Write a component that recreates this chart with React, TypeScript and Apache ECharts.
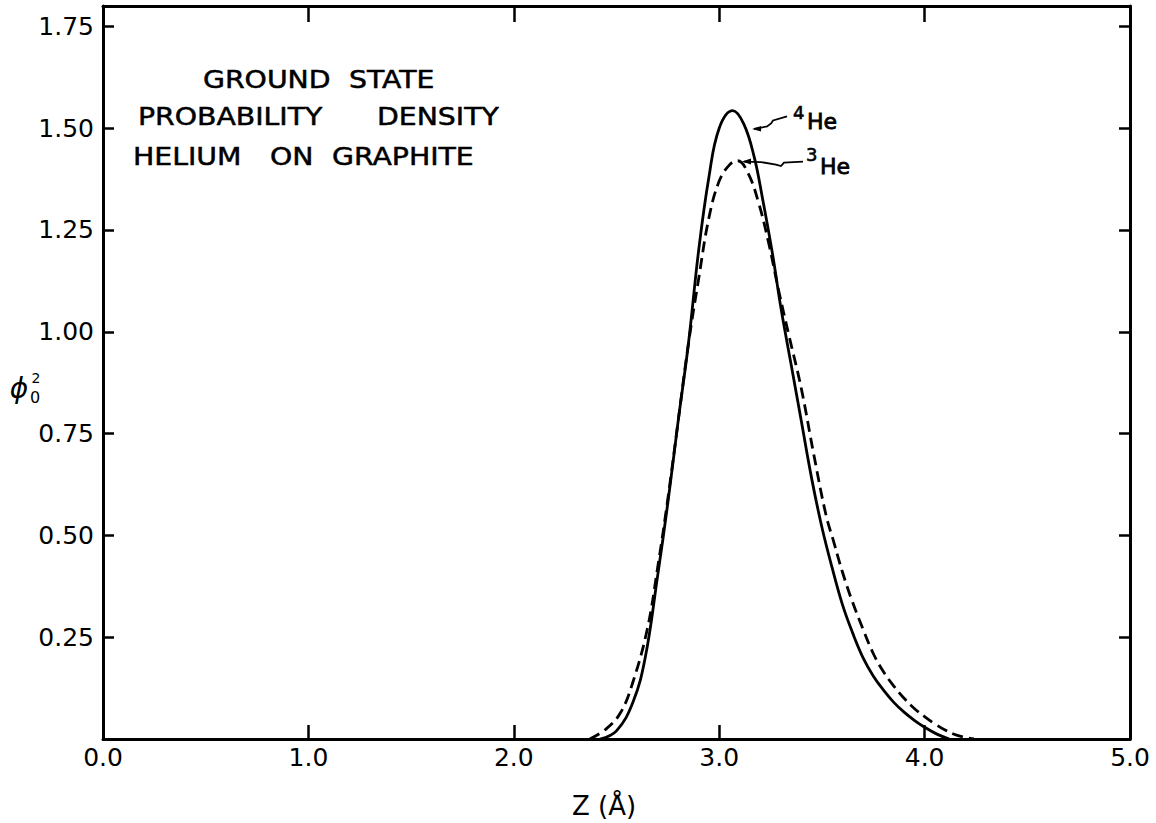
import React, { useEffect, useRef } from "react";
import * as echarts from "echarts";

// ---- data ----
const xTickValues = [0, 1, 2, 3, 4, 5];
const yTickValues = [0.25, 0.5, 0.75, 1.0, 1.25, 1.5, 1.75];

// 4He ground state probability density (solid)
const he4Z = [2.42, 2.5, 2.58, 2.64, 2.7, 2.75, 2.8, 2.85, 2.9, 2.95, 3.0, 3.066, 3.12, 3.17, 3.21, 3.26, 3.3, 3.35, 3.4, 3.45, 3.5, 3.55, 3.6, 3.65, 3.7, 3.75, 3.8, 3.85, 3.9, 3.95, 4.0, 4.06, 4.12];
const he4Phi = [0.0, 0.02, 0.09, 0.2, 0.4, 0.58, 0.78, 0.97, 1.2, 1.38, 1.5, 1.543, 1.51, 1.43, 1.33, 1.19, 1.06, 0.92, 0.78, 0.64, 0.52, 0.42, 0.33, 0.26, 0.2, 0.155, 0.12, 0.09, 0.066, 0.046, 0.029, 0.012, 0.0];

// 3He ground state probability density (dashed)
const he3Z = [2.37, 2.45, 2.52, 2.58, 2.65, 2.7, 2.75, 2.8, 2.85, 2.9, 2.95, 3.0, 3.05, 3.09, 3.14, 3.19, 3.24, 3.29, 3.34, 3.4, 3.46, 3.52, 3.56, 3.6, 3.65, 3.7, 3.75, 3.8, 3.85, 3.9, 3.95, 4.0, 4.05, 4.1, 4.16, 4.24];
const he3Phi = [0.0, 0.025, 0.065, 0.14, 0.27, 0.42, 0.59, 0.78, 0.97, 1.13, 1.28, 1.37, 1.41, 1.42, 1.39, 1.32, 1.22, 1.1, 0.99, 0.86, 0.7, 0.55, 0.48, 0.41, 0.335, 0.27, 0.21, 0.165, 0.13, 0.1, 0.075, 0.055, 0.037, 0.022, 0.009, 0.0];

const titleRows = [
  ["GROUND", "STATE"],
  ["PROBABILITY", "DENSITY"],
  ["HELIUM", "ON", "GRAPHITE"],
];
const xAxisTitle = "Z (Å)";
const seriesNames = ["4He", "3He"];

const FONT = "DejaVu Sans";

export default function App() {
  const ref = useRef<HTMLDivElement>(null);

  useEffect(() => {
    if (!ref.current) return;
    const chart = echarts.init(ref.current, undefined, { renderer: "svg" });

    const isTick = (v: number) => yTickValues.some((t) => Math.abs(t - v) < 1e-6);

    const axisLine = { show: true, onZero: false, lineStyle: { color: "#000", width: 3 } };

    chart.setOption({
      animation: false,
      backgroundColor: "#fff",
      grid: { left: 103, right: 26, top: 6, bottom: 84, containLabel: false },
      xAxis: [
        {
          type: "value",
          position: "bottom",
          min: xTickValues[0],
          max: xTickValues[xTickValues.length - 1],
          interval: 1,
          axisLine,
          axisTick: { show: true, inside: true, length: 14, lineStyle: { color: "#000", width: 2.5 } },
          axisLabel: {
            color: "#000",
            fontFamily: FONT,
            fontSize: 25,
            margin: 6,
            formatter: (v: number) => v.toFixed(1),
          },
          splitLine: { show: false },
        },
        {
          type: "value",
          position: "top",
          min: xTickValues[0],
          max: xTickValues[xTickValues.length - 1],
          interval: 1,
          axisLine,
          axisTick: { show: true, inside: true, length: 16, lineStyle: { color: "#000", width: 2.5 } },
          axisLabel: { show: false },
          splitLine: { show: false },
        },
      ],
      yAxis: [
        {
          type: "value",
          position: "left",
          min: 0,
          max: 1.8,
          interval: 0.25,
          axisLine,
          axisTick: { show: true, inside: true, length: 11, lineStyle: { color: "#000", width: 2.5 } },
          axisLabel: {
            color: "#000",
            fontFamily: FONT,
            fontSize: 25,
            margin: 9,
            formatter: (v: number) => (isTick(v) ? v.toFixed(2) : ""),
          },
          splitLine: { show: false },
        },
        {
          type: "value",
          position: "right",
          min: 0,
          max: 1.8,
          interval: 0.25,
          axisLine,
          axisTick: { show: true, inside: true, length: 11, lineStyle: { color: "#000", width: 2.5 } },
          axisLabel: { show: false },
          splitLine: { show: false },
        },
      ],
      series: [
        {
          name: seriesNames[0],
          type: "line",
          xAxisIndex: 0,
          yAxisIndex: 0,
          data: he4Z.map((z, i) => [z, he4Phi[i]]),
          showSymbol: false,
          smooth: 0.4,
          lineStyle: { color: "#000", width: 2.8, type: "solid" },
        },
        {
          name: seriesNames[1],
          type: "line",
          xAxisIndex: 0,
          yAxisIndex: 0,
          data: he3Z.map((z, i) => [z, he3Phi[i]]),
          showSymbol: false,
          smooth: 0.4,
          lineStyle: { color: "#000", width: 2.8, type: [11, 6] },
        },
      ],
    });

    const px = (z: number, v: number) =>
      chart.convertToPixel({ xAxisIndex: 0, yAxisIndex: 0 }, [z, v]) as number[];

    // title block
    const rowY = [80, 117, 157];
    const rowX = [[203, 349], [138, 377], [133, 270, 332]];
    const titleEls: any[] = [];
    titleRows.forEach((row, r) =>
      row.forEach((word, w) => {
        titleEls.push({
          type: "text",
          x: rowX[r][w],
          y: rowY[r],
          scaleX: 1.18,
          style: {
            text: word,
            fill: "#000",
            font: `24px "${FONT}"`,
            textAlign: "left",
            textVerticalAlign: "middle",
            stroke: "#000",
            lineWidth: 0.5,
          },
        });
      })
    );

    // annotation arrows anchored to curve points
    const t4 = px(3.16, 1.498);
    const t3 = px(3.111, 1.418);
    const poly = (o: number[], pts: number[][]) => pts.map(([dx, dy]) => [o[0] + dx, o[1] + dy]);

    const ann: any[] = [
      {
        type: "polyline",
        shape: { points: poly(t4, [[35, -12.5], [21, -8.5], [19, -5.5], [15, -2.5], [2, 0]]) },
        style: { stroke: "#000", lineWidth: 1.8, fill: "none" },
      },
      {
        type: "polygon",
        shape: { points: poly(t4, [[0, 0], [9, -3], [9, 2.5]]) },
        style: { fill: "#000" },
      },
      {
        type: "text",
        x: t4[0] + 41,
        y: t4[1] - 16,
        style: { text: "4", fill: "#000", font: `18px "${FONT}"`, textVerticalAlign: "middle", stroke: "#000", lineWidth: 0.6 },
      },
      {
        type: "text",
        x: t4[0] + 55,
        y: t4[1] - 7.5,
        style: { text: "He", fill: "#000", font: `22px "${FONT}"`, textVerticalAlign: "middle", stroke: "#000", lineWidth: 0.8 },
      },
      {
        type: "polyline",
        shape: { points: poly(t3, [[61, 0], [42, 1], [39, 4.5], [34, 3], [19, 0.5], [2, 0]]) },
        style: { stroke: "#000", lineWidth: 1.8, fill: "none" },
      },
      {
        type: "polygon",
        shape: { points: poly(t3, [[0, 0], [9, -3], [9, 3]]) },
        style: { fill: "#000" },
      },
      {
        type: "text",
        x: t3[0] + 64,
        y: t3[1] - 7.5,
        style: { text: "3", fill: "#000", font: `18px "${FONT}"`, textVerticalAlign: "middle", stroke: "#000", lineWidth: 0.6 },
      },
      {
        type: "text",
        x: t3[0] + 78,
        y: t3[1] + 5,
        style: { text: "He", fill: "#000", font: `22px "${FONT}"`, textVerticalAlign: "middle", stroke: "#000", lineWidth: 0.8 },
      },
    ];

    // axis titles
    const axisTitles: any[] = [
      {
        type: "text",
        x: 604,
        y: 806,
        style: { text: xAxisTitle, fill: "#000", font: `26px "${FONT}"`, textAlign: "center", textVerticalAlign: "middle" },
      },
      {
        type: "text",
        x: 19,
        y: 388,
        style: { text: "ϕ", fill: "#000", font: `italic 28px "${FONT}"`, textAlign: "center", textVerticalAlign: "middle" },
      },
      {
        type: "text",
        x: 36,
        y: 378,
        style: { text: "2", fill: "#000", font: `14px "${FONT}"`, textAlign: "center", textVerticalAlign: "middle" },
      },
      {
        type: "text",
        x: 35,
        y: 397,
        style: { text: "0", fill: "#000", font: `16px "${FONT}"`, textAlign: "center", textVerticalAlign: "middle" },
      },
    ];

    chart.setOption({ graphic: [...titleEls, ...ann, ...axisTitles] });

    return () => chart.dispose();
  }, []);

  return (
    <div
      ref={ref}
      style={{ position: "fixed", left: 0, top: 0, width: 1156, height: 823, background: "#fff" }}
    />
  );
}
